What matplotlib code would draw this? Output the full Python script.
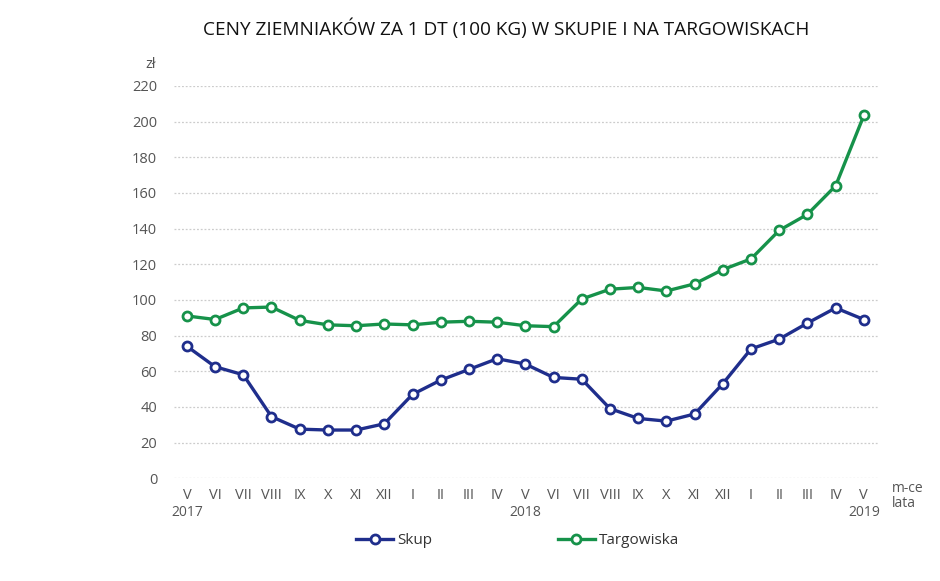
import numpy as np
import matplotlib.pyplot as plt

plt.rcParams['font.family'] = ['Open Sans', 'DejaVu Sans']

# months May 2017 - May 2019
months = ['V', 'VI', 'VII', 'VIII', 'IX', 'X', 'XI', 'XII', 'I', 'II', 'III', 'IV',
          'V', 'VI', 'VII', 'VIII', 'IX', 'X', 'XI', 'XII', 'I', 'II', 'III', 'IV', 'V']
years = {0: '2017', 12: '2018', 24: '2019'}

skup = [74, 62.5, 58, 34.5, 27.5, 27, 27, 30.5, 47, 55, 61, 67,
        64, 56.5, 55.5, 39, 33.5, 32, 36, 53, 72.5, 78, 87, 95.5, 89]
targowiska = [91, 89, 95.5, 96, 88.5, 86, 85.5, 86.5, 86, 87.5, 88, 87.5,
              85.5, 85, 100.5, 106, 107, 105, 109, 117, 123, 139, 148, 164, 203.5]

yticks = np.arange(0, 221, 20)

c_skup = '#1f2e8c'
c_targ = '#16924a'
gray = '#555555'

fig = plt.figure(figsize=(9.4, 5.81), dpi=100)
ax = fig.add_axes([0.185, 0.177, 0.749, 0.675])

x = np.arange(len(months))
for vals, col, lab in [(skup, c_skup, 'Skup'), (targowiska, c_targ, 'Targowiska')]:
    ax.plot(x, vals, color=col, lw=2.4, marker='o', ms=6.5, mfc='white',
            mec=col, mew=2, label=lab, clip_on=False, zorder=3)

ax.set_xlim(-0.46, 24.5)
ax.set_ylim(0, 220)
ax.set_yticks(yticks)
ax.set_xticks(x)
ax.set_xticklabels(months)
ax.yaxis.grid(True, color='#cccccc', linestyle=(0, (1.5, 1.5)), lw=0.9)
ax.set_axisbelow(True)
for s in ax.spines.values():
    s.set_visible(False)
ax.tick_params(length=0, colors=gray, labelsize=10.5)
ax.tick_params(axis='y', pad=12)
ax.tick_params(axis='x', pad=7)

for i, yr in years.items():
    ax.text(i, -15, yr, ha='center', va='top', color=gray, fontsize=10)

ax.text(25.0, -1.5, 'm-ce', ha='left', va='top', color=gray, fontsize=10)
ax.text(25.0, -10, 'lata', ha='left', va='top', color=gray, fontsize=10)
ax.text(-1.3, 232, 'zł', ha='center', va='center', color=gray, fontsize=10.5)

fig.text(0.538, 0.951, 'CENY ZIEMNIAKÓW ZA 1 DT (100 KG) W SKUPIE I NA TARGOWISKACH',
         ha='center', va='center', fontsize=13.7, color='#111111')

leg = fig.legend(loc='center', bbox_to_anchor=(0.551, 0.069), ncol=2, frameon=False,
                 fontsize=11, handlelength=2.4, handletextpad=0.3, columnspacing=8.2)
for t in leg.get_texts():
    t.set_color('#333333')

fig.savefig('out.png', dpi=100)
